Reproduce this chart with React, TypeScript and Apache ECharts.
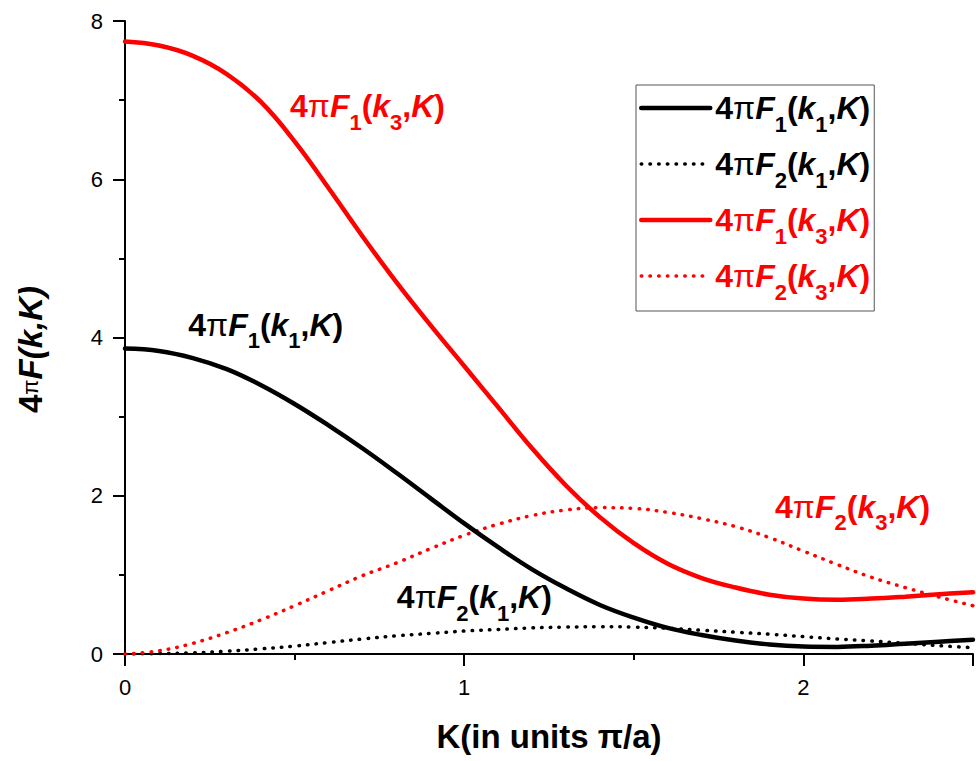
import React, { useEffect, useRef } from "react";
import * as echarts from "echarts";

// ---------------- data ----------------
const K = [0, 0.1, 0.2, 0.3, 0.4, 0.5, 0.6, 0.7, 0.8, 0.9, 1.0, 1.1, 1.2, 1.3, 1.4, 1.5, 1.6, 1.7, 1.8, 1.9, 2.0, 2.1, 2.2, 2.3, 2.4, 2.5];
const F1_k1 = [3.86, 3.83, 3.74, 3.6, 3.4, 3.16, 2.89, 2.6, 2.29, 1.97, 1.65, 1.35, 1.07, 0.83, 0.62, 0.46, 0.33, 0.24, 0.17, 0.12, 0.095, 0.09, 0.105, 0.13, 0.155, 0.18];
const F2_k1 = [0, 0.005, 0.015, 0.035, 0.065, 0.1, 0.145, 0.19, 0.23, 0.26, 0.29, 0.31, 0.33, 0.34, 0.345, 0.34, 0.325, 0.3, 0.275, 0.25, 0.22, 0.19, 0.165, 0.135, 0.105, 0.08];
const F1_k3 = [7.74, 7.69, 7.56, 7.33, 6.98, 6.48, 5.89, 5.28, 4.7, 4.16, 3.64, 3.12, 2.6, 2.13, 1.73, 1.4, 1.14, 0.96, 0.84, 0.75, 0.7, 0.685, 0.7, 0.725, 0.755, 0.78];
const F2_k3 = [0, 0.04, 0.135, 0.27, 0.43, 0.61, 0.8, 0.99, 1.15, 1.33, 1.5, 1.64, 1.75, 1.82, 1.85, 1.84, 1.79, 1.71, 1.61, 1.47, 1.3, 1.13, 0.97, 0.84, 0.72, 0.61];

const SERIES_NAMES = ["F1k1", "F2k1", "F1k3", "F2k3"];
// annotation anchors [K, value] (left edge, vertical centre)
const LABEL_POS: Record<string, [number, number]> = {
  F1k1: [0.185, 4.16],
  F2k1: [0.8, 0.72],
  F1k3: [0.485, 6.92],
  F2k3: [1.915, 1.86],
};

const X_MIN = 0;
const X_MAX = 2.5;
const Y_MIN = 0;
const Y_MAX = 8;

const FONT = "'Liberation Sans', Arial, sans-serif";
const BLACK = "#000000";
const RED = "#ff0000";

function richSet(prefix: string, color: string) {
  const size = 32;
  const sub = 22;
  const lh = 40;
  return {
    [prefix + "n"]: { color, fontSize: size, fontWeight: "bold", fontFamily: FONT, lineHeight: lh },
    [prefix + "p"]: { color, fontSize: size, fontWeight: "normal", fontFamily: FONT, lineHeight: lh },
    [prefix + "i"]: { color, fontSize: size, fontWeight: "bold", fontStyle: "italic", fontFamily: FONT, lineHeight: lh },
    [prefix + "s"]: { color, fontSize: sub, fontWeight: "bold", fontFamily: FONT, height: 8, lineHeight: 8, verticalAlign: "bottom" },
  };
}

const RICH = { ...richSet("k", BLACK), ...richSet("r", RED) };

function labelText(name: string): string {
  const p = name.endsWith("k3") ? "r" : "k";
  const fi = name.charAt(1);
  const ki = name.charAt(3);
  return `{${p}n|4}{${p}p|π}{${p}i|F}{${p}s|${fi}}{${p}n|(}{${p}i|k}{${p}s|${ki}}{${p}n|,}{${p}i|K}{${p}n|)}`;
}

const isDotted = (n: string) => n.startsWith("F2");
const colorOf = (n: string) => (n.endsWith("k3") ? RED : BLACK);
const lineStyleOf = (n: string) =>
  isDotted(n)
    ? { color: colorOf(n), width: 3.5, type: [0.5, 8.2], cap: "round" }
    : { color: colorOf(n), width: 4.5, type: "solid", cap: "round" };

export default function App() {
  const ref = useRef<HTMLDivElement>(null);
  useEffect(() => {
    document.body.style.margin = "0";
    if (!ref.current) return;
    const chart = echarts.init(ref.current, null, { renderer: "svg" });

    const mk = (name: string, data: number[]) => ({
      name,
      type: "line",
      data: K.map((k, i) => [k, data[i]]),
      showSymbol: false,
      symbol: "none",
      smooth: 0.4,
      silent: true,
      lineStyle: lineStyleOf(name),
      itemStyle: { color: colorOf(name) },
      markPoint: {
        silent: true,
        symbol: "circle",
        symbolSize: 1,
        itemStyle: { color: "transparent" },
        label: {
          show: true,
          position: "right",
          distance: 0,
          formatter: labelText(name),
          rich: RICH,
        },
        data: [{ coord: LABEL_POS[name] }],
      },
    });

    chart.setOption({
      animation: false,
      backgroundColor: "#ffffff",
      grid: { left: 125, right: 1, top: 21, bottom: 107, containLabel: false },
      legend: {
        data: SERIES_NAMES.map((n) => ({
          name: n,
          lineStyle: lineStyleOf(n),
          itemStyle: { opacity: 0, color: "transparent", borderWidth: 0 },
        })),
        orient: "vertical",
        left: 636,
        top: 85,
        padding: [7, 4, 8, 3],
        itemWidth: 69,
        itemHeight: 14,
        itemGap: 13,
        borderColor: "#555555",
        borderWidth: 1,
        backgroundColor: "#ffffff",
        selectedMode: false,
        itemStyle: { opacity: 0 },
        formatter: (n: string) => labelText(n),
        textStyle: { rich: RICH },
      },
      xAxis: {
        type: "value",
        min: X_MIN,
        max: X_MAX,
        interval: 1,
        name: "K(in units π/a)",
        nameLocation: "middle",
        nameGap: 66,
        nameTextStyle: {
          fontFamily: FONT,
          fontSize: 33,
          fontWeight: "bold",
          color: BLACK,
        },
        axisLine: { show: true, lineStyle: { color: BLACK, width: 2 } },
        axisTick: { show: true, inside: false, length: 12, lineStyle: { color: BLACK, width: 2 } },
        minorTick: { show: true, splitNumber: 2, length: 6, lineStyle: { color: BLACK, width: 2 } },
        axisLabel: {
          margin: 22,
          fontFamily: FONT,
          fontSize: 22,
          color: BLACK,
          formatter: (v: number) => (Number.isInteger(v) ? String(v) : ""),
        },
        splitLine: { show: false },
        minorSplitLine: { show: false },
      },
      yAxis: {
        type: "value",
        min: Y_MIN,
        max: Y_MAX,
        interval: 2,
        name: "{a|4}{b|π}{c|F(k,K)}",
        nameLocation: "middle",
        nameGap: 78,
        nameRotate: 90,
        nameTextStyle: {
          padding: [0, 24, 0, 0],
          rich: {
            a: { fontFamily: FONT, fontSize: 33, fontWeight: "bold", color: BLACK },
            b: { fontFamily: FONT, fontSize: 22, fontWeight: "normal", color: BLACK },
            c: { fontFamily: FONT, fontSize: 33, fontWeight: "bold", fontStyle: "italic", color: BLACK },
          },
        },
        axisLine: { show: true, lineStyle: { color: BLACK, width: 2 } },
        axisTick: { show: true, inside: false, length: 12, lineStyle: { color: BLACK, width: 2 } },
        minorTick: { show: true, splitNumber: 2, length: 6, lineStyle: { color: BLACK, width: 2 } },
        axisLabel: { margin: 22, fontFamily: FONT, fontSize: 22, color: BLACK },
        splitLine: { show: false },
        minorSplitLine: { show: false },
      },
      series: [
        mk("F2k1", F2_k1),
        mk("F2k3", F2_k3),
        mk("F1k1", F1_k1),
        mk("F1k3", F1_k3),
      ],
    });

    return () => chart.dispose();
  }, []);

  return <div ref={ref} style={{ width: 976, height: 761 }} />;
}
